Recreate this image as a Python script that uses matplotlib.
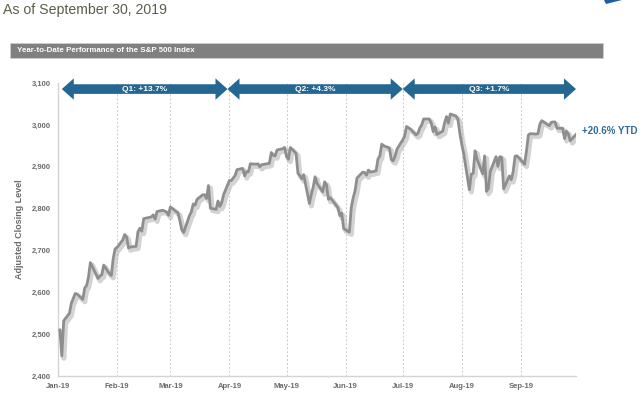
#grafico del S&P 500 en lo que va del año
import numpy as np
import matplotlib
matplotlib.use("Agg")
import matplotlib.pyplot as plt
import matplotlib.dates as mdates
import matplotlib.patheffects as pe
from matplotlib.patches import Polygon

#datos
fechas = [
    "2019-01-02", "2019-01-03", "2019-01-04", "2019-01-07", "2019-01-08", "2019-01-09", "2019-01-10",
    "2019-01-11", "2019-01-14", "2019-01-15", "2019-01-16", "2019-01-17", "2019-01-18", "2019-01-22",
    "2019-01-23", "2019-01-24", "2019-01-25", "2019-01-28", "2019-01-29", "2019-01-30", "2019-01-31",
    "2019-02-01", "2019-02-04", "2019-02-05", "2019-02-06", "2019-02-07", "2019-02-08", "2019-02-11",
    "2019-02-12", "2019-02-13", "2019-02-14", "2019-02-15", "2019-02-19", "2019-02-20", "2019-02-21",
    "2019-02-22", "2019-02-25", "2019-02-26", "2019-02-27", "2019-02-28",
    "2019-03-01", "2019-03-04", "2019-03-05", "2019-03-06", "2019-03-07", "2019-03-08", "2019-03-11",
    "2019-03-12", "2019-03-13", "2019-03-14", "2019-03-15", "2019-03-18", "2019-03-19", "2019-03-20",
    "2019-03-21", "2019-03-22", "2019-03-25", "2019-03-26", "2019-03-27", "2019-03-28", "2019-03-29",
    "2019-04-01", "2019-04-02", "2019-04-03", "2019-04-04", "2019-04-05", "2019-04-08", "2019-04-09",
    "2019-04-10", "2019-04-11", "2019-04-12", "2019-04-15", "2019-04-16", "2019-04-17", "2019-04-18",
    "2019-04-22", "2019-04-23", "2019-04-24", "2019-04-25", "2019-04-26", "2019-04-29", "2019-04-30",
    "2019-05-01", "2019-05-02", "2019-05-03", "2019-05-06", "2019-05-07", "2019-05-08", "2019-05-09",
    "2019-05-10", "2019-05-13", "2019-05-14", "2019-05-15", "2019-05-16", "2019-05-17", "2019-05-20",
    "2019-05-21", "2019-05-22", "2019-05-23", "2019-05-24", "2019-05-28", "2019-05-29", "2019-05-30",
    "2019-05-31",
    "2019-06-03", "2019-06-04", "2019-06-05", "2019-06-06", "2019-06-07", "2019-06-10", "2019-06-11",
    "2019-06-12", "2019-06-13", "2019-06-14", "2019-06-17", "2019-06-18", "2019-06-19", "2019-06-20",
    "2019-06-21", "2019-06-24", "2019-06-25", "2019-06-26", "2019-06-27", "2019-06-28",
    "2019-07-01", "2019-07-02", "2019-07-03", "2019-07-05", "2019-07-08", "2019-07-09", "2019-07-10",
    "2019-07-11", "2019-07-12", "2019-07-15", "2019-07-16", "2019-07-17", "2019-07-18", "2019-07-19",
    "2019-07-22", "2019-07-23", "2019-07-24", "2019-07-25", "2019-07-26", "2019-07-29", "2019-07-30",
    "2019-07-31",
    "2019-08-01", "2019-08-02", "2019-08-05", "2019-08-06", "2019-08-07", "2019-08-08", "2019-08-09",
    "2019-08-12", "2019-08-13", "2019-08-14", "2019-08-15", "2019-08-16", "2019-08-19", "2019-08-20",
    "2019-08-21", "2019-08-22", "2019-08-23", "2019-08-26", "2019-08-27", "2019-08-28", "2019-08-29",
    "2019-08-30",
    "2019-09-03", "2019-09-04", "2019-09-05", "2019-09-06", "2019-09-09", "2019-09-10", "2019-09-11",
    "2019-09-12", "2019-09-13", "2019-09-16", "2019-09-17", "2019-09-18", "2019-09-19", "2019-09-20",
    "2019-09-23", "2019-09-24", "2019-09-25", "2019-09-26", "2019-09-27", "2019-09-30",
]
cierres = [
    2510, 2448, 2532, 2550, 2574, 2585, 2597, 2596, 2583, 2610, 2616, 2636, 2671, 2633,
    2639, 2642, 2665, 2644, 2640, 2681, 2704,
    2707, 2725, 2738, 2732, 2706, 2708, 2710, 2745, 2753, 2746, 2776, 2780, 2785, 2775,
    2793, 2796, 2794, 2792, 2784,
    2804, 2793, 2790, 2771, 2749, 2743, 2783, 2792, 2811, 2808, 2822, 2833, 2833, 2824,
    2855, 2801, 2798, 2818, 2805, 2815, 2834,
    2867, 2867, 2873, 2879, 2893, 2896, 2878, 2888, 2888, 2907, 2906, 2907, 2900, 2905,
    2908, 2934, 2927, 2926, 2940, 2943, 2946,
    2924, 2918, 2946, 2932, 2884, 2879, 2871, 2881, 2812, 2834, 2851, 2876, 2860, 2840,
    2864, 2856, 2822, 2826, 2802, 2783, 2789, 2752,
    2744, 2803, 2826, 2843, 2873, 2887, 2886, 2880, 2892, 2887, 2890, 2918, 2926, 2954,
    2950, 2945, 2917, 2914, 2925, 2942,
    2964, 2973, 2996, 2990, 2976, 2980, 2993, 3000, 3014, 3014, 3004, 2984, 2995, 2977,
    2985, 3005, 3020, 3004, 3026, 3021, 3013, 2980,
    2954, 2932, 2845, 2882, 2884, 2938, 2919, 2883, 2926, 2841, 2848, 2889, 2924, 2901,
    2924, 2923, 2847, 2878, 2869, 2888, 2925, 2926,
    2906, 2938, 2976, 2979, 2978, 2979, 3001, 3010, 3007, 2998, 3006, 3007, 3007, 2992,
    2992, 2967, 2985, 2978, 2962, 2977,
]
meses = ["2019-01-01", "2019-02-01", "2019-03-01", "2019-04-01", "2019-05-01",
         "2019-06-01", "2019-07-01", "2019-08-01", "2019-09-01"]
etiquetas_meses = ["Jan-19", "Feb-19", "Mar-19", "Apr-19", "May-19",
                   "Jun-19", "Jul-19", "Aug-19", "Sep-19"]
yticks = [2400, 2500, 2600, 2700, 2800, 2900, 3000, 3100]
trimestres = ["Q1: +13.7%", "Q2: +4.3%", "Q3: +1.7%"]
inicio_trim = ["2019-01-03", "2019-03-31", "2019-07-01"]
fin_trim = ["2019-03-31", "2019-07-01", "2019-09-30"]
ytd = "+20.6% YTD"

azul = "#236792"
gris_txt = "#6a6a6a"
plt.rcParams["font.family"] = ["Liberation Sans", "DejaVu Sans"]

x = mdates.date2num(np.array(fechas, dtype="datetime64[D]"))
xm = mdates.date2num(np.array(meses, dtype="datetime64[D]"))

fig = plt.figure(figsize=(6.4, 3.96), dpi=100)
ax = fig.add_axes([58/640, 1-376/396, 518/640, 293/396])

#linea con sombra
ax.plot(x, cierres, color="#8e8e8e", lw=2.0, solid_joinstyle="round", zorder=3,
        path_effects=[pe.SimpleLineShadow(offset=(1.5, -1.8), shadow_color="#b0b0b0", alpha=0.55, linewidth=3.5),
                      pe.Normal()])

ax.set_xlim(mdates.date2num(np.datetime64("2019-01-01")), mdates.date2num(np.datetime64("2019-09-30")))
ax.set_ylim(2400, 3100)
ax.set_yticks(yticks)
ax.set_yticklabels([f"{v:,}" for v in yticks], fontsize=5.5, color=gris_txt, fontweight="bold")
ax.set_xticks(xm)
ax.set_xticklabels(etiquetas_meses, fontsize=5.5, color=gris_txt, fontweight="bold")
ax.tick_params(length=0, pad=5)
for v in xm[1:]:
    ax.axvline(v, color="#c9c9c9", lw=0.7, ls=(0, (2, 2)), zorder=1)
for s in ["top", "right"]:
    ax.spines[s].set_visible(False)
for s in ["left", "bottom"]:
    ax.spines[s].set_color("#d4d4d4")
    ax.spines[s].set_linewidth(1.0)
ax.set_ylabel("Adjusted Closing Level", fontsize=6.5, color=gris_txt, fontweight="bold", labelpad=6)

#flechas de trimestres
yc = 3085.5
cuerpo = 11.5
cabeza = 25.5
largo = 6.3
for lab, a, b in zip(trimestres, inicio_trim, fin_trim):
    xa = mdates.date2num(np.datetime64(a))
    xb = mdates.date2num(np.datetime64(b))
    pts = [(xa, yc), (xa+largo, yc+cabeza), (xa+largo, yc+cuerpo), (xb-largo, yc+cuerpo),
           (xb-largo, yc+cabeza), (xb, yc), (xb-largo, yc-cabeza), (xb-largo, yc-cuerpo),
           (xa+largo, yc-cuerpo), (xa+largo, yc-cabeza)]
    ax.add_patch(Polygon(pts, closed=True, fc=azul, ec="none", clip_on=False, zorder=4))
    ax.text((xa+xb)/2, yc, lab, color="white", fontsize=6, fontweight="bold",
            ha="center", va="center", zorder=5)

ax.text(x[-1]+3, 2985, ytd, color="#2b6c99", fontsize=7, fontweight="bold",
        ha="left", va="center", clip_on=False)

#encabezados
fig.text(3/640, 1-10/396, "As of September 30, 2019", fontsize=10.2, color="#5d5d4a",
         ha="left", va="center")
fig.patches.append(plt.Rectangle((10/640, 1-58/396), 593/640, 15/396, transform=fig.transFigure,
                                 fc="#808080", ec="#d0d0d0", lw=0.5))
fig.text(17/640, 1-50.5/396, "Year-to-Date Performance of the S&P 500 Index", fontsize=5.7,
         color="white", fontweight="bold", ha="left", va="center")
fig.patches.append(Polygon([(604/640, 1), (622/640, 1), (606/640, 1-4/396)], closed=True,
                           transform=fig.transFigure, fc="#1f5fa0", ec="none"))

plt.savefig("out.png", dpi=100)
